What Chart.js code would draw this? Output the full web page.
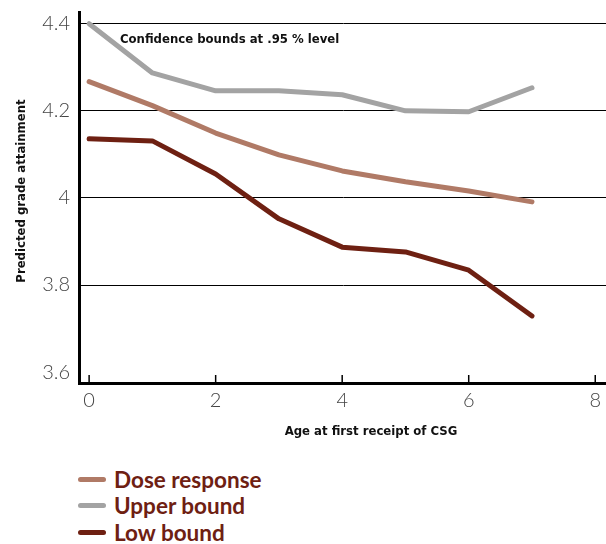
<!DOCTYPE html>
<html>
<head>
<meta charset="utf-8">
<script src="https://cdn.jsdelivr.net/npm/chart.js@4"></script>
<style>
  body { margin: 0; background: #fff; }
  #wrap { position: relative; width: 606px; height: 544px; }
  #grafico { position: absolute; left: 0; top: 0; }
  #leyenda { position: absolute; left: 78px; top: 466px; }
  .fila { display: flex; align-items: center; height: 26.5px; }
  .muestra { width: 28px; height: 5px; border-radius: 3px; margin-right: 8px; }
  .texto { font-family: Lato, "DejaVu Sans Condensed", sans-serif; font-weight: bold; font-size: 22.5px; color: #6e2012; }
</style>
</head>
<body>
<div id="wrap">
  <canvas id="grafico" width="606" height="450"></canvas>
  <div id="leyenda"></div>
</div>
<script>
const edades = [0, 1, 2, 3, 4, 5, 6, 7]
const dosis = [4.267, 4.212, 4.149, 4.099, 4.062, 4.037, 4.016, 3.991]
const superior = [4.400, 4.287, 4.246, 4.246, 4.237, 4.200, 4.198, 4.253]
const inferior = [4.136, 4.131, 4.055, 3.952, 3.887, 3.876, 3.834, 3.729]
const ticksX = [0, 2, 4, 6, 8]
const ticksY = [3.6, 3.8, 4.0, 4.2, 4.4]
const etiquetasY = ['3.6', '3.8', '4', '4.2', '4.4']

const series = [
  { label: 'Dose response', data: dosis, color: '#b07a66' },
  { label: 'Upper bound', data: superior, color: '#a3a3a3' },
  { label: 'Low bound', data: inferior, color: '#6e2012' }
]

const fuenteTitulo = 'bold 13px "DejaVu Sans Condensed", sans-serif'

const extras = {
  id: 'extras',
  afterDraw(chart) {
    const ctx = chart.ctx
    const x = chart.scales.x
    const y = chart.scales.y
    ctx.save()
    // marcas del eje x hacia adentro
    ctx.strokeStyle = '#000'
    ctx.lineWidth = 1.5
    ticksX.forEach(t => {
      const px = x.getPixelForValue(t)
      ctx.beginPath()
      ctx.moveTo(px, y.bottom)
      ctx.lineTo(px, y.bottom - 8)
      ctx.stroke()
    })
    ctx.fillStyle = '#111'
    ctx.font = fuenteTitulo
    ctx.textBaseline = 'middle'
    ctx.textAlign = 'left'
    ctx.fillText('Confidence bounds at .95 % level', 120, 40)
    ctx.textAlign = 'center'
    ctx.fillText('Age at first receipt of CSG', 371, 432)
    ctx.translate(22, 191)
    ctx.rotate(-Math.PI / 2)
    ctx.fillText('Predicted grade attainment', 0, 0)
    ctx.restore()
  }
}

const chart = new Chart(document.querySelector('#grafico'), {
  type: 'line',
  data: {
    datasets: series.map(s => ({
      label: s.label,
      data: s.data.map((v, i) => ({ x: edades[i], y: v })),
      borderColor: s.color,
      borderWidth: 5,
      borderCapStyle: 'round',
      borderJoinStyle: 'round',
      pointRadius: 0,
      tension: 0,
      fill: false
    }))
  },
  options: {
    responsive: false,
    animation: false,
    layout: { padding: { top: 12, right: 0, left: 0, bottom: 0 } },
    plugins: { legend: { display: false }, tooltip: { enabled: false } },
    scales: {
      x: {
        type: 'linear',
        min: -0.16,
        max: 8.17,
        afterFit: s => { s.height = 67; s.paddingLeft = 0; s.paddingRight = 0 },
        afterBuildTicks: s => { s.ticks = ticksX.map(v => ({ value: v })) },
        grid: { display: false, drawTicks: false },
        border: { display: true, color: '#000', width: 3 },
        ticks: {
          padding: 6,
          color: '#444',
          font: { family: 'Lato, "DejaVu Sans", sans-serif', size: 20, weight: 300 }
        }
      },
      y: {
        min: 3.575,
        max: 4.427,
        afterFit: s => { s.width = 79; s.paddingTop = 0; s.paddingBottom = 0 },
        afterBuildTicks: s => { s.ticks = ticksY.map(v => ({ value: v })) },
        grid: {
          drawTicks: false,
          color: ctx => (ctx.tick && ctx.tick.value > 3.7 ? '#000' : 'rgba(0,0,0,0)'),
          lineWidth: 1
        },
        border: { display: true, color: '#000', width: 3 },
        ticks: {
          padding: 9,
          color: '#444',
          font: { family: 'Lato, "DejaVu Sans", sans-serif', size: 20, weight: 300 },
          callback: (v) => etiquetasY[ticksY.indexOf(v)] ?? ''
        }
      }
    }
  },
  plugins: [extras]
})

const leyenda = document.querySelector('#leyenda')
series.forEach(s => {
  const fila = document.createElement('div')
  fila.className = 'fila'
  fila.innerHTML = `<div class="muestra" style="background:${s.color}"></div><span class="texto">${s.label}</span>`
  leyenda.appendChild(fila)
})
</script>
</body>
</html>
